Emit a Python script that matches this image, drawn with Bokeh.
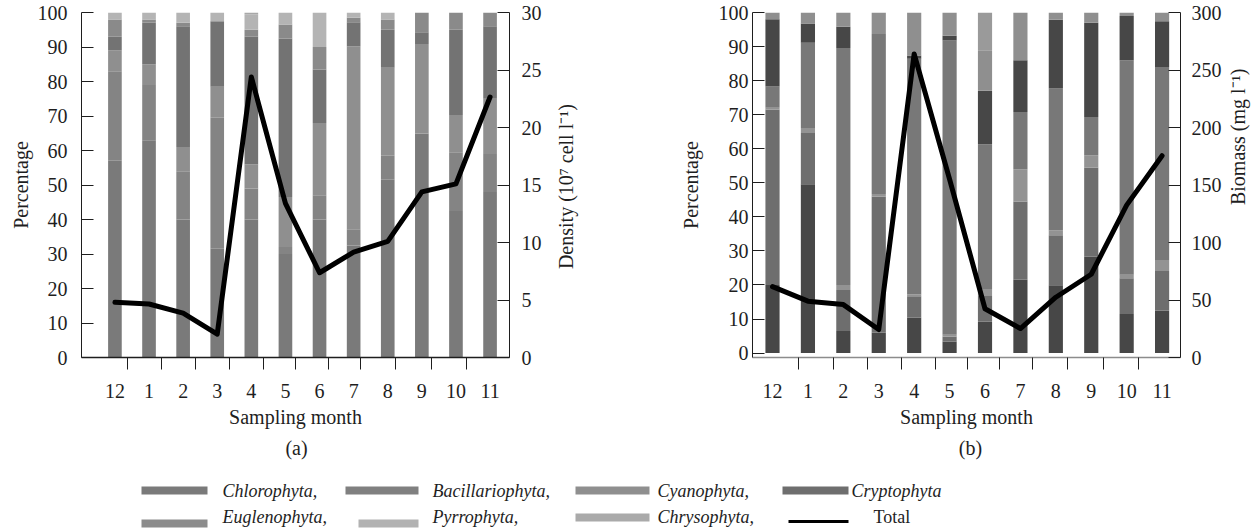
import math
from bokeh.plotting import figure
from bokeh.models import Range1d, LinearAxis, FixedTicker, ColumnDataSource
from bokeh.layouts import row, column
from bokeh.embed import file_html
from bokeh.resources import INLINE
from bokeh.core.properties import value

# ---------------- data ----------------
months = ["12", "1", "2", "3", "4", "5", "6", "7", "8", "9", "10", "11"]
species = ["Chlorophyta", "Bacillariophyta", "Cyanophyta", "Cryptophyta",
           "Euglenophyta", "Pyrrophyta", "Chrysophyta"]

# panel (a): percentage of density
a_chlorophyta = [57, 63, 40, 31.5, 40, 30, 40, 32.5, 51.5, 64.9, 42.5, 48]
a_bacillariophyta = [26, 16, 14, 38, 9, 2, 7, 4.7, 7, 0, 17, 11]
a_cyanophyta = [6, 6, 7, 9, 7, 14.5, 21, 53, 25.5, 26, 10.8, 16]
a_cryptophyta = [4, 12, 35, 19, 37, 46, 15.5, 7, 11, 3.4, 24.7, 21]
a_euglenophyta = [5, 1, 1, 0, 2, 4, 6.5, 1.3, 3, 5.7, 5, 4]
a_pyrrophyta = [2, 2, 3, 2.5, 4.5, 3.5, 10, 1.5, 2, 0, 0, 0]
a_chrysophyta = [0, 0, 0, 0, 0.5, 0, 0, 0, 0, 0, 0, 0]
density = [4.8, 4.65, 3.86, 2.03, 24.4, 13.4, 7.37, 9.17, 10.1, 14.4, 15.1, 22.65]

# panel (b): percentage of biomass
b_chlorophyta = [20, 49.6, 6.5, 6, 10.4, 3.4, 9.2, 21.5, 19.9, 28.3, 11.5, 12.5]
b_bacillariophyta = [51.5, 15, 12, 40, 6.3, 1.5, 7.8, 23, 14.7, 26.2, 10.5, 11.6]
b_cyanophyta = [0.5, 1.5, 1.5, 0.7, 0.5, 0.5, 1.6, 9.5, 1.4, 3.6, 1, 3.2]
b_cryptophyta = [6.3, 25, 69.6, 47, 69.2, 86.4, 42.7, 16.8, 41.7, 11.2, 63, 56.7]
b_euglenophyta = [19.7, 5.7, 6.2, 0, 1, 1.4, 15.7, 15.2, 20.2, 27.7, 13, 13.4]
b_pyrrophyta = [2, 3.2, 4.2, 6.3, 12.6, 6.8, 11.9, 14, 2.1, 3, 1, 2.6]
b_chrysophyta = [0, 0, 0, 0, 0, 0, 11.1, 0, 0, 0, 0, 0]
biomass = [61.6, 49, 46, 24.3, 264, 155, 42.4, 25.2, 52.4, 72.4, 132.5, 175.5]

pct_ticks = [0, 10, 20, 30, 40, 50, 60, 70, 80, 90, 100]
density_ticks = [0, 5, 10, 15, 20, 25, 30]
biomass_ticks = [0, 50, 100, 150, 200, 250, 300]

density_title = "Density (10\u2077 cell l\u207b\u00b9)"
biomass_title = "Biomass (mg l\u207b\u00b9)"
legend_labels = ["Chlorophyta,", "Bacillariophyta,", "Cyanophyta,", "Cryptophyta",
                 "Euglenophyta,", "Pyrrophyta,", "Chrysophyta,"]
total_label = "Total"

# ---------------- styling ----------------
FONT = "Liberation Serif"
TXT = "#1e1e1e"
colors_a = ["#7a7a7a", "#848484", "#8f8f8f", "#737373", "#8a8a8a", "#b4b4b4", "#a8a8a8"]
colors_b = ["#474747", "#6e6e6e", "#939393", "#787878", "#474747", "#8f8f8f", "#9a9a9a"]
legend_colors = ["#7a7a7a", "#808080", "#8f8f8f", "#6e6e6e", "#8c8c8c", "#b2b2b2", "#aaaaaa"]

xpos = list(range(len(months)))
seps_a = [0.358, 1.357, 2.364, 3.354, 4.352, 5.30, 6.26, 7.21, 8.24, 9.29, 10.31]
seps_b = [0.743, 1.715, 2.675, 3.636, 4.605, 5.50, 6.41, 7.35, 8.34, 9.34, 10.32]


def style_axis(ax):
    ax.major_label_text_font = FONT
    ax.major_label_text_font_size = "20px"
    ax.major_label_text_color = TXT
    ax.axis_label_text_font = FONT
    ax.axis_label_text_font_size = "20px"
    ax.axis_label_text_font_style = "normal"
    ax.axis_label_text_color = TXT
    ax.axis_line_color = TXT
    ax.major_tick_line_color = TXT
    ax.minor_tick_line_color = None
    ax.major_tick_in = 12
    ax.major_tick_out = 0


def make_panel(width, xr, yr, yr2_name, yr2, borders, stacks, colors, line_vals,
               seps, y2_ticks, left_standoff, left_title_standoff, right_standoff,
               xaxis_color):
    p = figure(width=width, height=430, x_range=Range1d(*xr), y_range=Range1d(*yr),
               output_backend="svg", toolbar_location=None,
               min_border_left=borders[0], min_border_right=borders[1],
               min_border_top=borders[2], min_border_bottom=borders[3])
    p.extra_y_ranges = {yr2_name: Range1d(*yr2)}
    p.xgrid.visible = False
    p.ygrid.visible = False
    p.outline_line_color = None

    data = {"x": xpos}
    for name, vals in zip(species, stacks):
        data[name] = vals
    src = ColumnDataSource(data)
    p.vbar_stack(species, x="x", width=0.4, color=colors, line_color=None, source=src)
    p.line(xpos, line_vals, y_range_name=yr2_name, line_width=5, line_color="black",
           line_join="round", line_cap="round")

    xa = p.xaxis[0]
    style_axis(xa)
    xa.ticker = FixedTicker(ticks=xpos, minor_ticks=seps)
    xa.major_label_overrides = {i: m for i, m in zip(xpos, months)}
    xa.major_tick_line_color = None
    xa.major_tick_in = 0
    xa.major_tick_out = 0
    xa.minor_tick_line_color = TXT
    xa.minor_tick_in = 0
    xa.minor_tick_out = 12
    xa.major_label_standoff = 14
    xa.axis_label = "Sampling month"
    xa.axis_label_standoff = 5
    xa.axis_line_color = xaxis_color
    xa.axis_line_width = 1.5

    ya = p.yaxis[0]
    style_axis(ya)
    ya.ticker = FixedTicker(ticks=pct_ticks)
    ya.major_label_standoff = left_standoff
    ya.axis_label = "Percentage"
    ya.axis_label_standoff = left_title_standoff

    ra = LinearAxis(y_range_name=yr2_name)
    style_axis(ra)
    ra.ticker = FixedTicker(ticks=y2_ticks)
    ra.major_label_standoff = right_standoff
    p.add_layout(ra, "right")
    return p


def title_strip(width, text, cx, cy):
    t = figure(width=width, height=430, x_range=Range1d(0, width), y_range=Range1d(430, 0),
               output_backend="svg", toolbar_location=None, min_border=0,
               x_axis_type=None, y_axis_type=None)
    t.outline_line_color = None
    t.xgrid.visible = False
    t.ygrid.visible = False
    t.text(x=[cx], y=[cy], text=[text], angle=math.pi / 2, text_font=value(FONT),
           text_font_size="20px", text_align="center", text_baseline="middle",
           text_color=TXT)
    return t


pA = make_panel(545, (-0.98, 11.57), (0, 100), "dens", (0, 30), (81, 36, 12, 69),
                [a_chlorophyta, a_bacillariophyta, a_cyanophyta, a_cryptophyta,
                 a_euglenophyta, a_pyrrophyta, a_chrysophyta],
                colors_a, density, seps_a, density_ticks, 14, 3, 12, TXT)
tA = title_strip(75, density_title, 20, 217)

pB = make_panel(605, (-0.565, 11.52), (-1.3, 100), "bio", (0, 300), (132, 45, 12, 70),
                [b_chlorophyta, b_bacillariophyta, b_cyanophyta, b_cryptophyta,
                 b_euglenophyta, b_pyrrophyta, b_chrysophyta],
                colors_b, biomass, seps_b, biomass_ticks, 4, 14, 11, "#8c8c8c")
tB = title_strip(27, biomass_title, 12, 155)

# ---------------- legend / captions strip ----------------
pL = figure(width=1252, height=100, x_range=Range1d(0, 1252), y_range=Range1d(530, 430),
            output_backend="svg", toolbar_location=None, min_border=0,
            x_axis_type=None, y_axis_type=None)
pL.outline_line_color = None
pL.xgrid.visible = False
pL.ygrid.visible = False

pL.text(x=[296, 970], y=[447, 447], text=["(a)", "(b)"], text_font=value(FONT),
        text_font_size="20px", text_align="center", text_baseline="middle", text_color=TXT)

sw_left = [141, 345, 575, 782, 141, 358, 575]
sw_right = [207, 418, 649, 848, 207, 418, 649]
sw_mid = [490, 490, 490, 490, 523, 523, 517]
txt_x = [222, 432, 657, 851, 222, 432, 657]
txt_y = [490, 490, 490, 490, 516, 516, 516]
pL.quad(left=sw_left, right=sw_right, top=[m - 4 for m in sw_mid],
        bottom=[m + 4 for m in sw_mid], color=legend_colors, line_color=None)
pL.text(x=txt_x, y=txt_y, text=legend_labels, text_font=value(FONT),
        text_font_style="italic", text_font_size="18px", text_baseline="middle",
        text_color=TXT)
pL.line(x=[788, 848], y=[521, 521], line_width=3, line_color="black")
pL.text(x=[873], y=[516], text=[total_label], text_font=value(FONT),
        text_font_size="18px", text_baseline="middle", text_color=TXT)

layout = column(row(pA, tA, pB, tB), pL)
open("out.html", "w").write(file_html(layout, INLINE))
